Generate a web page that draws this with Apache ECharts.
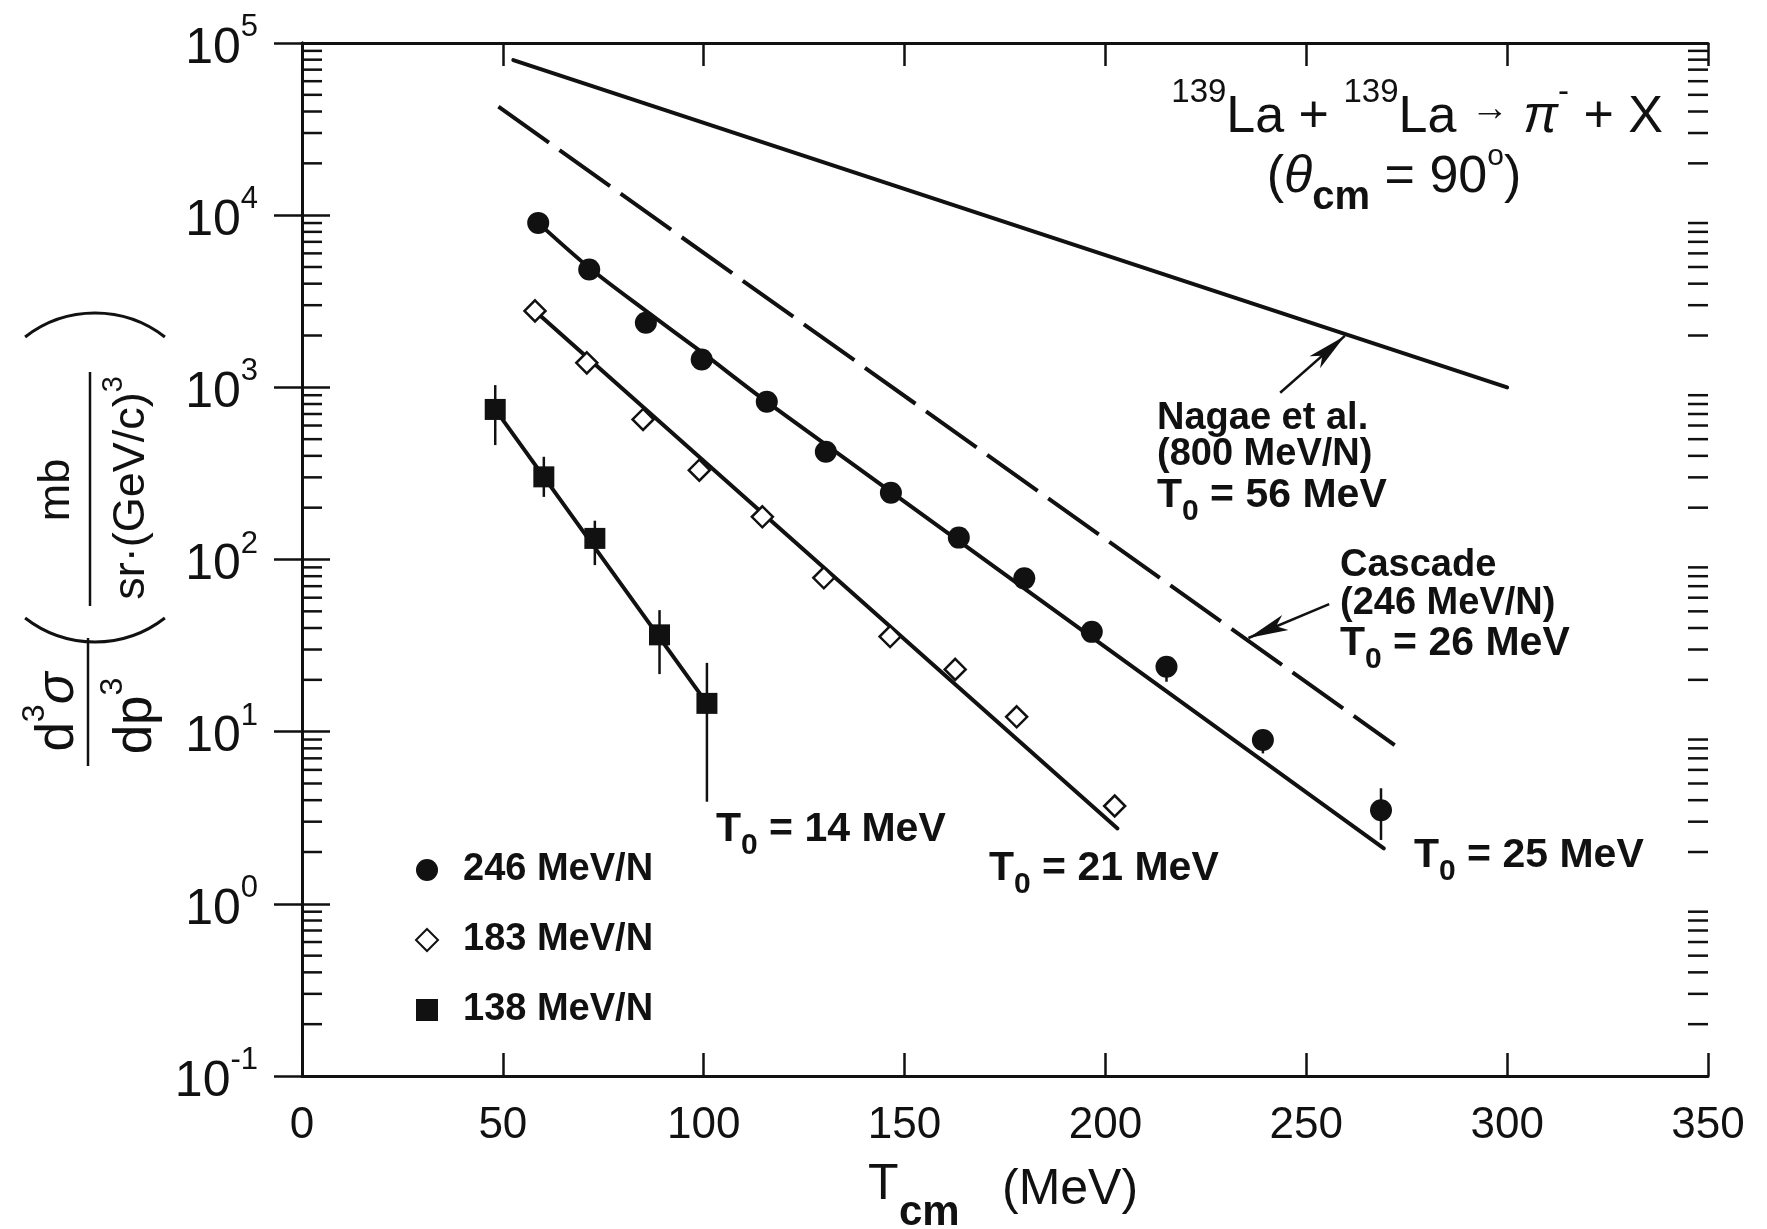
<!DOCTYPE html>
<html>
<head>
<meta charset="utf-8">
<title>139La + 139La -> pi- + X</title>
<script src="https://cdn.jsdelivr.net/npm/echarts@6/dist/echarts.min.js"></script>
<style>
  html, body { margin: 0; padding: 0; background: #fff; }
  #main { width: 1767px; height: 1229px; }
</style>
</head>
<body>
<div id="main"></div>
<script>
// values: T_cm in MeV, d3sigma/dp3 in mb/(sr (GeV/c)^3)
var circleT = [58.8, 71.5, 85.6, 99.5, 115.7, 130.4, 146.6, 163.5, 179.8, 196.6, 215.2, 239.2, 268.6];
var circleV = [9020, 4840, 2370, 1452, 824, 422, 244, 134, 77.7, 38.0, 23.8, 8.94, 3.50];
var circleErrT = [215.2, 239.2, 268.6];
var circleErrLo = [19.5, 7.48, 2.35];
var circleErrHi = [23.8, 8.94, 4.69];

var diamondT = [58.0, 70.9, 84.9, 98.9, 114.6, 129.9, 146.4, 162.6, 177.9, 202.3];
var diamondV = [2780, 1387, 651, 330, 177, 78.3, 35.7, 23.0, 12.2, 3.70];

var squareT = [48.1, 60.2, 72.9, 89.0, 100.8];
var squareV = [744, 302, 132.6, 36.5, 14.6];
var squareLo = [462, 231, 92.8, 21.6, 3.92];
var squareHi = [1030, 395, 168, 50.8, 25.1];

// fitted curves and comparison curves
var fit246T = [58.8, 71.5, 85.6, 99.5, 115.7, 269.3];
var fit246V = [9020, 4950, 2780, 1600, 824, 2.10];
var fit183T = [58.0, 203.0];
var fit183V = [2780, 2.74];
var fit138T = [48.1, 100.8];
var fit138V = [744, 14.6];
var nagaeT = [52.6, 300];
var nagaeV = [79600, 1000];
var cascadeT = [48.9, 272.0];
var cascadeV = [42650, 8.36];

// arrows pointing from the labels to the curves
var nagaeArrowT = [243.5, 259.6];
var nagaeArrowV = [930, 1990];
var cascadeArrowT = [255.7, 235.6];
var cascadeArrowV = [55.1, 35.0];

// axes
var xTicks = [0, 350, 50];
var decades = [0.1, 1, 10, 100, 1000, 10000];
var minorSteps = [2, 3, 4, 5, 6, 7, 8, 9];

var legendNames = ['246 MeV/N', '183 MeV/N', '138 MeV/N'];

var ink = '#111';
var font = '"Liberation Sans", Arial, Helvetica, sans-serif';

function pairs(xs, ys) {
  return xs.map(function (x, i) { return [x, ys[i]]; });
}

var minorTicks = [];
decades.forEach(function (d) {
  minorSteps.forEach(function (m) { minorTicks.push([0, d * m]); });
});

var errData = pairs(squareT, squareLo).map(function (p, i) { return [p[0], p[1], squareHi[i]]; })
  .concat(pairs(circleErrT, circleErrLo).map(function (p, i) { return [p[0], p[1], circleErrHi[i]]; }));

var myChart = echarts.init(document.getElementById('main'));

function fitLine(xs, ys, extra) {
  var s = {
    type: 'line', data: pairs(xs, ys), showSymbol: false, symbol: 'none', silent: true, z: 2,
    lineStyle: { color: ink, width: 4, cap: 'round', join: 'round' }
  };
  for (var k in extra) s[k] = extra[k];
  return s;
}

function arrow(xs, ys) {
  return {
    silent: true, animation: false, symbol: ['none', 'none'],
    lineStyle: { color: ink, width: 2.5, type: 'solid' },
    label: { show: false },
    data: [[
      { coord: [xs[0], ys[0]], symbol: 'none' },
      { coord: [xs[1], ys[1]], symbol: 'arrow', symbolSize: [12, 40] }
    ]]
  };
}

var yLabelRich = {
  b: { fontSize: 50, fontFamily: font, color: ink, padding: [12, 0, 0, 0] },
  s: { fontSize: 31, fontFamily: font, color: ink, verticalAlign: 'top' }
};

function t0Rich(size) {
  return {
    t: { fontSize: size, fontWeight: 'bold', fontFamily: font, fill: ink, padding: [0, 0, 10, 0] },
    sub: { fontSize: 30, fontWeight: 'bold', fontFamily: font, fill: ink, verticalAlign: 'bottom' }
  };
}

function label(x, y, text, size) {
  return {
    type: 'text', x: x, y: y, silent: true,
    style: { text: text, fill: ink, fontSize: size || 38, fontWeight: 'bold', fontFamily: font,
      align: 'left', verticalAlign: 'middle' }
  };
}

function t0Label(x, y, text) {
  return {
    type: 'text', x: x, y: y, silent: true,
    style: { text: '{t|T}{sub|0}{t|' + text + '}', rich: t0Rich(41), align: 'left', verticalAlign: 'middle' }
  };
}

function rotText(x, y, text, rich, size) {
  return {
    type: 'text', x: x, y: y, rotation: Math.PI / 2, silent: true,
    style: { text: text, rich: rich, fill: ink, fontSize: size, fontFamily: font,
      align: 'center', verticalAlign: 'middle' }
  };
}

var titleRich = {
  t: { fontSize: 52, fontFamily: font, fill: ink, padding: [16, 0, 0, 0] },
  pi: { fontSize: 52, fontFamily: font, fontStyle: 'italic', fill: ink, padding: [16, 0, 0, 0] },
  s: { fontSize: 33, fontFamily: font, fill: ink, verticalAlign: 'top' },
  a: { fontSize: 38, fontFamily: font, fill: ink }
};
var title2Rich = {
  t: { fontSize: 52, fontFamily: font, fill: ink, padding: [10, 0, 14, 0] },
  th: { fontSize: 52, fontFamily: font, fontStyle: 'italic', fill: ink, padding: [10, 0, 14, 0] },
  s: { fontSize: 30, fontFamily: font, fill: ink, verticalAlign: 'top' },
  sub: { fontSize: 40, fontWeight: 'bold', fontFamily: font, fill: ink, verticalAlign: 'bottom' }
};
var fracRich = {
  t: { fontSize: 53, fontFamily: font, fill: ink, padding: [12, 0, 0, 0] },
  g: { fontSize: 53, fontFamily: font, fontStyle: 'italic', fill: ink, padding: [12, 0, 0, 0] },
  s: { fontSize: 32, fontFamily: font, fill: ink, verticalAlign: 'top' }
};
var unitRich = {
  t: { fontSize: 45, fontFamily: font, fill: ink, padding: [10, 0, 0, 0] },
  s: { fontSize: 29, fontFamily: font, fill: ink, verticalAlign: 'top' }
};

var option = {
  animation: false,
  backgroundColor: '#fff',
  grid: { left: 302, right: 59, top: 43, bottom: 153, containLabel: false },
  legend: {
    data: legendNames, orient: 'vertical', left: 410, top: 846,
    itemWidth: 22, itemHeight: 22, itemGap: 32, selectedMode: false,
    textStyle: { fontSize: 38, fontWeight: 'bold', color: ink, fontFamily: font, padding: [0, 0, 0, 20] }
  },
  xAxis: [{
    type: 'value', min: xTicks[0], max: xTicks[1], interval: xTicks[2], position: 'bottom',
    axisLine: { lineStyle: { color: ink, width: 3 } },
    axisTick: { inside: true, length: 23, lineStyle: { color: ink, width: 2.5 } },
    axisLabel: { fontSize: 44, color: ink, fontFamily: font, margin: 28 },
    splitLine: { show: false }
  }, {
    type: 'value', min: xTicks[0], max: xTicks[1], interval: xTicks[2], position: 'top',
    axisLine: { lineStyle: { color: ink, width: 3 } },
    axisTick: { inside: true, length: 23, lineStyle: { color: ink, width: 2.5 } },
    axisLabel: { show: false },
    splitLine: { show: false }
  }],
  yAxis: [{
    type: 'log', logBase: 10, min: decades[0], max: decades[decades.length - 1] * 10, splitNumber: 6,
    position: 'left',
    axisLine: { show: true, lineStyle: { color: ink, width: 3 } },
    axisTick: { show: true, inside: true, length: 28, lineStyle: { color: ink, width: 2.5 } },
    axisLabel: {
      margin: 44, color: ink, fontFamily: font,
      formatter: function (v) {
        var e = Math.round(Math.log(v) / Math.LN10);
        return '{b|10}{s|' + e + '}';
      },
      rich: yLabelRich
    },
    splitLine: { show: false }
  }, {
    type: 'log', logBase: 10, min: decades[0], max: decades[decades.length - 1] * 10, splitNumber: 6,
    position: 'right',
    axisLine: { show: true, lineStyle: { color: ink, width: 3 } },
    axisTick: { show: true, inside: true, length: 28, lineStyle: { color: ink, width: 2.5 } },
    axisLabel: { show: false },
    splitLine: { show: false }
  }],
  series: [
    {
      type: 'custom', silent: true, z: 1, clip: false,
      data: minorTicks,
      encode: { x: 0, y: 1 },
      renderItem: function (params, api) {
        var l = api.coord([xTicks[0], api.value(1)]);
        var r = api.coord([xTicks[1], api.value(1)]);
        return {
          type: 'group', children: [
            { type: 'line', shape: { x1: l[0], y1: l[1], x2: l[0] + 20, y2: l[1] }, style: { stroke: ink, lineWidth: 2.5 } },
            { type: 'line', shape: { x1: r[0], y1: r[1], x2: r[0] - 20, y2: r[1] }, style: { stroke: ink, lineWidth: 2.5 } }
          ]
        };
      }
    },
    fitLine(nagaeT, nagaeV, { markLine: arrow(nagaeArrowT, nagaeArrowV) }),
    fitLine(cascadeT, cascadeV, {
      lineStyle: { color: ink, width: 4, type: [62, 13] },
      markLine: arrow(cascadeArrowT, cascadeArrowV)
    }),
    fitLine(fit246T, fit246V, { smooth: 0.3 }),
    fitLine(fit183T, fit183V),
    fitLine(fit138T, fit138V),
    {
      type: 'custom', silent: true, z: 3,
      data: errData,
      encode: { x: 0, y: [1, 2] },
      renderItem: function (params, api) {
        var lo = api.coord([api.value(0), api.value(1)]);
        var hi = api.coord([api.value(0), api.value(2)]);
        return { type: 'line', shape: { x1: lo[0], y1: lo[1], x2: hi[0], y2: hi[1] }, style: { stroke: ink, lineWidth: 2.5 } };
      }
    },
    {
      name: legendNames[0], type: 'scatter', z: 4, symbol: 'circle', symbolSize: 22,
      data: pairs(circleT, circleV), itemStyle: { color: ink, opacity: 1 }
    },
    {
      name: legendNames[1], type: 'scatter', z: 4, symbol: 'diamond', symbolSize: 21,
      data: pairs(diamondT, diamondV),
      itemStyle: { color: '#fff', borderColor: ink, borderWidth: 2.5, opacity: 1 }
    },
    {
      name: legendNames[2], type: 'scatter', z: 4, symbol: 'rect', symbolSize: 21,
      data: pairs(squareT, squareV), itemStyle: { color: ink, opacity: 1 }
    }
  ],
  graphic: [
    // reaction title
    {
      type: 'text', x: 1663, y: 110, silent: true,
      style: {
        text: '{s|139}{t|La + }{s|139}{t|La }{a|\u2192}{pi| \u03c0}{s|-}{t| + X}',
        rich: titleRich, align: 'right', verticalAlign: 'middle'
      }
    },
    {
      type: 'text', x: 1394, y: 180, silent: true,
      style: {
        text: '{t|(}{th|\u03b8}{sub|cm}{t| = 90}{s|o}{t|)}',
        rich: title2Rich, align: 'center', verticalAlign: 'middle'
      }
    },
    // curve annotations
    label(1157, 419, 'Nagae et al.', 38),
    label(1157, 455, '(800 MeV/N)', 38),
    t0Label(1157, 501, ' = 56 MeV'),
    label(1340, 566, 'Cascade', 38),
    label(1340, 604, '(246 MeV/N)', 38),
    t0Label(1340, 649, ' = 26 MeV'),
    t0Label(716, 835, ' = 14 MeV'),
    t0Label(989, 874, ' = 21 MeV'),
    t0Label(1414, 861, ' = 25 MeV'),
    // x axis title
    { type: 'text', x: 868, y: 1185, silent: true,
      style: { text: 'T', fill: ink, fontSize: 50, fontFamily: font, align: 'left', verticalAlign: 'middle' } },
    { type: 'text', x: 899, y: 1213, silent: true,
      style: { text: 'cm', fill: ink, fontSize: 42, fontWeight: 'bold', fontFamily: font, align: 'left', verticalAlign: 'middle' } },
    { type: 'text', x: 1002, y: 1190, silent: true,
      style: { text: '(MeV)', fill: ink, fontSize: 50, fontFamily: font, align: 'left', verticalAlign: 'middle' } },
    // y axis title
    rotText(52, 712, '{t|d}{s|3}{g|\u03c3}', fracRich, 53),
    rotText(130, 716, '{t|dp}{s|3}', fracRich, 53),
    { type: 'line', silent: true, shape: { x1: 88, y1: 638, x2: 88, y2: 766 }, style: { stroke: ink, lineWidth: 2.5 } },
    rotText(57, 490, 'mb', null, 45),
    rotText(127, 488, '{t|sr\u00b7(GeV/c)}{s|3}', unitRich, 45),
    { type: 'line', silent: true, shape: { x1: 90, y1: 372, x2: 90, y2: 606 }, style: { stroke: ink, lineWidth: 2.5 } },
    { type: 'arc', silent: true,
      shape: { cx: 95, cy: 427, r: 114, startAngle: -Math.PI / 2 - 0.66, endAngle: -Math.PI / 2 + 0.66, clockwise: true },
      style: { stroke: ink, lineWidth: 3, fill: null } },
    { type: 'arc', silent: true,
      shape: { cx: 95, cy: 528, r: 114, startAngle: Math.PI / 2 - 0.66, endAngle: Math.PI / 2 + 0.66, clockwise: true },
      style: { stroke: ink, lineWidth: 3, fill: null } }
  ]
};

myChart.setOption(option);
</script>
</body>
</html>
